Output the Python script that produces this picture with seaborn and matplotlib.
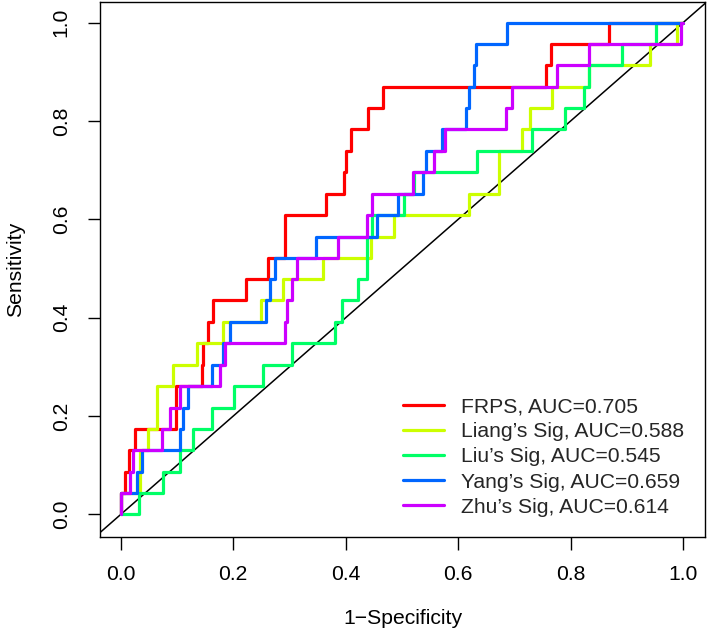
import matplotlib
matplotlib.use("Agg")
import matplotlib.pyplot as plt
import seaborn as sns
import pandas as pd

# ---- data (ROC step vertices) ----
models = ["FRPS, AUC=0.705", "Liang\u2019s Sig, AUC=0.588", "Liu\u2019s Sig, AUC=0.545",
          "Yang\u2019s Sig, AUC=0.659", "Zhu\u2019s Sig, AUC=0.614"]
colors = ["#FF0000", "#CCFF00", "#00FF66", "#0066FF", "#CC00FF"]

frps_fpr = [0, 0, 0.007, 0.015, 0.025, 0.099, 0.144, 0.146, 0.155, 0.164, 0.223, 0.261, 0.292,
            0.365, 0.397, 0.401, 0.409, 0.440, 0.467, 0.757, 0.765, 0.869, 1.0]
frps_tpr = [0, 0.043, 0.087, 0.130, 0.174, 0.261, 0.304, 0.348, 0.391, 0.435, 0.478, 0.522, 0.609,
            0.652, 0.696, 0.739, 0.783, 0.826, 0.870, 0.913, 0.957, 1.0, 1.0]

liang_fpr = [0, 0, 0.034, 0.049, 0.064, 0.093, 0.135, 0.182, 0.250, 0.289, 0.360, 0.445, 0.485,
             0.620, 0.673, 0.713, 0.728, 0.766, 0.832, 0.941, 0.990, 1.0]
liang_tpr = [0, 0.043, 0.130, 0.174, 0.261, 0.304, 0.348, 0.391, 0.435, 0.478, 0.522, 0.565, 0.609,
             0.652, 0.739, 0.783, 0.826, 0.870, 0.913, 0.957, 1.0, 1.0]

liu_fpr = [0, 0.033, 0.075, 0.105, 0.128, 0.163, 0.201, 0.253, 0.304, 0.381, 0.393, 0.422, 0.438,
           0.447, 0.504, 0.522, 0.633, 0.731, 0.790, 0.823, 0.832, 0.891, 0.952, 1.0]
liu_tpr = [0, 0.043, 0.087, 0.130, 0.174, 0.217, 0.261, 0.304, 0.348, 0.391, 0.435, 0.478, 0.565,
           0.609, 0.652, 0.696, 0.739, 0.783, 0.826, 0.870, 0.913, 0.957, 1.0, 1.0]

yang_fpr = [0, 0, 0.028, 0.037, 0.105, 0.111, 0.120, 0.162, 0.182, 0.194, 0.259, 0.266, 0.274,
            0.348, 0.456, 0.493, 0.537, 0.543, 0.571, 0.614, 0.620, 0.628, 0.631, 0.686, 1.0]
yang_tpr = [0, 0.043, 0.087, 0.130, 0.174, 0.217, 0.261, 0.304, 0.348, 0.391, 0.435, 0.478, 0.522,
            0.565, 0.609, 0.652, 0.696, 0.739, 0.783, 0.826, 0.870, 0.913, 0.957, 1.0, 1.0]

zhu_fpr = [0, 0, 0.017, 0.022, 0.074, 0.087, 0.106, 0.176, 0.185, 0.292, 0.295, 0.304, 0.314,
           0.387, 0.437, 0.446, 0.520, 0.557, 0.577, 0.685, 0.695, 0.775, 0.833, 0.997, 1.0]
zhu_tpr = [0, 0.043, 0.087, 0.130, 0.174, 0.217, 0.261, 0.304, 0.348, 0.391, 0.435, 0.478, 0.522,
           0.565, 0.609, 0.652, 0.696, 0.739, 0.783, 0.826, 0.870, 0.913, 0.957, 1.0, 1.0]

tick_vals = [0.0, 0.2, 0.4, 0.6, 0.8, 1.0]
tick_labels = ["0.0", "0.2", "0.4", "0.6", "0.8", "1.0"]

# ---- build long table ----
series = [(frps_fpr, frps_tpr), (liang_fpr, liang_tpr), (liu_fpr, liu_tpr),
          (yang_fpr, yang_tpr), (zhu_fpr, zhu_tpr)]
rows = []
for name, (fx, ty) in zip(models, series):
    for i, (a, b) in enumerate(zip(fx, ty)):
        rows.append({"fpr": a, "tpr": b, "model": name, "order": i})
df = pd.DataFrame(rows)

sns.set_theme(style="white")
plt.rcParams["font.family"] = ["Liberation Sans", "DejaVu Sans"]

fs = 15.2
fig = plt.figure(figsize=(7.08, 6.36), dpi=100)
ax = fig.add_axes([100 / 708, 1 - 537 / 636, 605 / 708, 535 / 636])

ax.axline((0, 0), (1, 1), color="black", lw=1.1, zorder=1)

sns.lineplot(data=df, x="fpr", y="tpr", hue="model", hue_order=models,
             palette=colors, sort=False, estimator=None, drawstyle="steps-post",
             linewidth=2.3, ax=ax, zorder=2)

ax.set_xlim(-0.037, 1.039)
ax.set_ylim(-0.046, 1.042)
ax.set_xticks(tick_vals)
ax.set_xticklabels(tick_labels)
ax.set_yticks(tick_vals)
ax.set_yticklabels(tick_labels, rotation=90, va="center")
ax.tick_params(axis="both", direction="out", length=9, width=1.0, color="black",
               labelsize=fs, labelcolor="black", bottom=True, left=True)
ax.tick_params(axis="x", pad=11)
ax.tick_params(axis="y", pad=12)
for s in ax.spines.values():
    s.set_visible(True)
    s.set_color("black")
    s.set_linewidth(1.0)

ax.set_xlabel("1\u2212Specificity", fontsize=fs, color="black", labelpad=18)
ax.set_ylabel("Sensitivity", fontsize=fs, color="black", labelpad=19)

handles, labels = ax.get_legend_handles_labels()
ax.legend(handles, labels, loc="lower right", bbox_to_anchor=(0.965, 0.038),
          frameon=False, fontsize=fs, handlelength=1.95, handletextpad=0.8,
          labelspacing=0.29, borderpad=0, borderaxespad=0)

fig.savefig("out.png", dpi=100)
